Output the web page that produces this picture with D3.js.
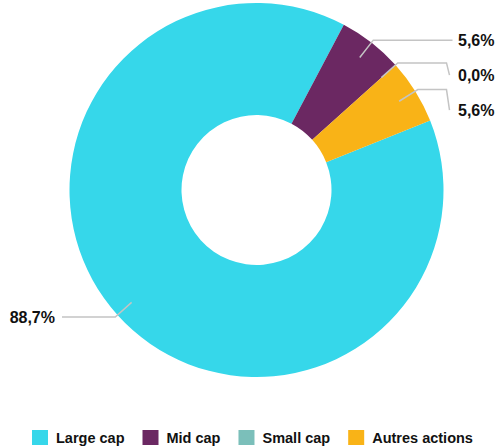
<!DOCTYPE html>
<html>
<head>
<meta charset="utf-8">
<script src="https://cdn.jsdelivr.net/npm/d3@7"></script>
<style>
  body { margin: 0; background: #fff; }
  text { font-family: "Liberation Sans", Arial, sans-serif; }
</style>
</head>
<body>
<div id="chart"></div>
<script>
var categories = ['Large cap', 'Mid cap', 'Small cap', 'Autres actions'];
var values = [88.7, 5.6, 0.0, 5.6];
var labels = ['88,7%', '5,6%', '0,0%', '5,6%'];
var colors = ['#36d7ea', '#6b2862', '#7bbfba', '#f9b317'];

var width = 496, height = 448;
var cx = 256.5, cy = 190;
var outer = 187, inner = 75;

var svg = d3.select('#chart')
  .append('svg')
  .attr('width', width)
  .attr('height', height);

var g = svg.append('g')
  .attr('transform', 'translate(' + cx + ',' + cy + ')');

var start = 68.2 * Math.PI / 180;
var pie = d3.pie()
  .sort(null)
  .value(function(d) { return d; })
  .startAngle(start)
  .endAngle(start + 2 * Math.PI);

var arcs = pie(values);

var arc = d3.arc()
  .innerRadius(inner)
  .outerRadius(outer);

g.selectAll('path.slice')
  .data(arcs)
  .enter()
  .append('path')
  .attr('class', 'slice')
  .attr('d', arc)
  .style('fill', function(d, i) { return colors[i]; });

// connector geometry
var rStart = 168, rBend = 190;
var pts = arcs.map(function(d, i) {
  var a = (d.startAngle + d.endAngle) / 2;
  return {
    i: i,
    right: Math.sin(a) > 0,
    sx: Math.sin(a) * rStart, sy: -Math.cos(a) * rStart,
    bx: Math.sin(a) * rBend, by: -Math.cos(a) * rBend
  };
});

// push labels apart on each side
var minGap = 35;
['right', 'left'].forEach(function(side) {
  var list = pts.filter(function(p) { return side == 'right' ? p.right : !p.right; })
    .sort(function(a, b) { return a.by - b.by; });
  var last = -Infinity;
  list.forEach(function(p) {
    p.ly = Math.max(p.by, last + minGap);
    last = p.ly;
  });
});

var rightX = 190, leftX = -194.5;

g.selectAll('path.connector')
  .data(pts)
  .enter()
  .append('path')
  .attr('class', 'connector')
  .attr('d', function(p) {
    var path = d3.path();
    path.moveTo(p.sx, p.sy);
    path.lineTo(p.bx, p.by);
    if (p.right) {
      if (Math.abs(p.ly - p.by) > 1) {
        path.lineTo(rightX, p.by);
        path.lineTo(rightX + 3, p.ly);
      } else {
        path.lineTo(rightX + 6, p.by);
      }
    } else {
      path.lineTo(leftX, p.by);
    }
    return path.toString();
  })
  .style('fill', 'none')
  .style('stroke', '#c4c4c4')
  .style('stroke-width', 1.5);

g.selectAll('text.lbl')
  .data(pts)
  .enter()
  .append('text')
  .attr('class', 'lbl')
  .attr('x', function(p) { return p.right ? 201.5 : -201.5; })
  .attr('y', function(p) { return p.ly; })
  .attr('dy', '0.35em')
  .attr('text-anchor', function(p) { return p.right ? 'start' : 'end'; })
  .style('font-size', '16px')
  .style('font-weight', 'bold')
  .style('fill', '#111')
  .text(function(p) { return labels[p.i]; });

// legend
var legend = svg.append('g').attr('class', 'legend');
var lx = 32, ly = 438;
categories.forEach(function(c, i) {
  var item = legend.append('g');
  item.append('rect')
    .attr('x', lx)
    .attr('y', ly - 8)
    .attr('width', 16)
    .attr('height', 15)
    .style('fill', colors[i]);
  var t = item.append('text')
    .attr('x', lx + 24)
    .attr('y', ly)
    .attr('dy', '0.35em')
    .style('font-size', '14.5px')
    .style('font-weight', 'bold')
    .style('fill', '#111')
    .text(c);
  lx += 24 + t.node().getComputedTextLength() + 18;
});
</script>
</body>
</html>
